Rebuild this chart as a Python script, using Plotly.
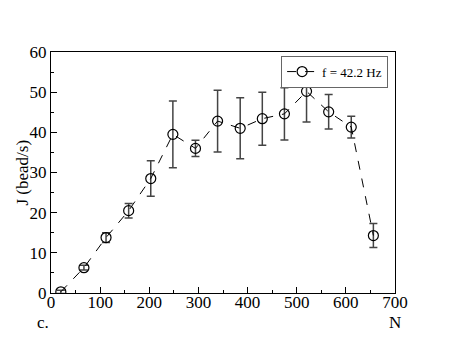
import plotly.graph_objects as go

n_beads = [20, 67, 112, 158, 203, 248, 294, 339, 385, 430, 475, 520, 565, 611, 656]
flux = [0.3, 6.3, 13.8, 20.5, 28.5, 39.5, 36.0, 42.8, 41.0, 43.4, 44.6, 50.2, 45.1, 41.3, 14.3]
flux_err = [0.4, 0.6, 1.2, 1.8, 4.4, 8.3, 2.0, 7.7, 7.6, 6.6, 6.5, 7.6, 4.3, 2.7, 3.0]

fig = go.Figure()
fig.add_trace(go.Scatter(
    x=n_beads, y=flux,
    error_y=dict(type="data", array=flux_err, color="#444", thickness=1.5, width=4),
    mode="lines+markers",
    line=dict(color="black", dash="dash", width=1),
    marker=dict(symbol="circle-open", size=10, color="black", line=dict(width=1.2)),
    name="f = 42.2 Hz",
))

serif = "Liberation Serif"
font = dict(family=serif, size=17, color="black")
axis = dict(showgrid=False, zeroline=False, showline=True, linecolor="black", linewidth=1,
            mirror=True, ticks="inside", ticklen=6, tickcolor="black",
            tickfont=font)

fig.update_layout(
    width=458, height=354,
    margin=dict(l=43, r=71, t=44, b=69, autoexpand=False),
    plot_bgcolor="white", paper_bgcolor="white",
    font=font,
    showlegend=True,
    legend=dict(x=0.98, y=0.985, xanchor="right", yanchor="top",
                bordercolor="#666", borderwidth=1, bgcolor="white",
                font=dict(family=serif, size=13, color="black"),
                itemwidth=30, tracegroupgap=0),
    xaxis=dict(axis, range=[0, 700], dtick=100, ticklabelstandoff=-6,
               minor=dict(ticks="inside", ticklen=3, dtick=50, tickcolor="black")),
    yaxis=dict(axis, range=[0, 60], dtick=10, ticklabelstandoff=0,
               minor=dict(ticks="inside", ticklen=3, dtick=5, tickcolor="black")),
)
fig.add_annotation(text="J (bead/s)", x=0, y=0.5, xref="paper", yref="paper", textangle=-90,
                   xanchor="center", yanchor="middle", xshift=-29, showarrow=False, font=font)
fig.add_annotation(text="N", x=1.0, y=0, xref="paper", yref="paper", xanchor="center",
                   yanchor="top", yshift=-18, showarrow=False, font=font)
fig.add_annotation(text="c.", x=0, y=0, xref="paper", yref="paper", xanchor="right",
                   yanchor="top", yshift=-18, showarrow=False, font=font)

fig.write_html("out.html")
